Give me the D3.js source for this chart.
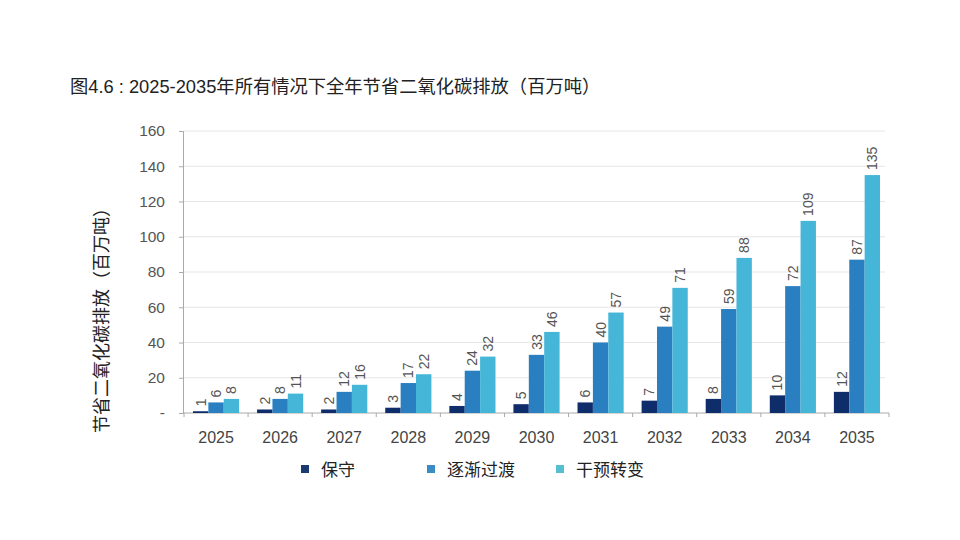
<!DOCTYPE html>
<html><head><meta charset="utf-8">
<script src="https://cdn.jsdelivr.net/npm/d3@7/dist/d3.min.js"></script>
<style>body{margin:0;background:#fff;}svg{display:block;}</style>
</head><body>
<script>
const years = ["2025","2026","2027","2028","2029","2030","2031","2032","2033","2034","2035"];
const seriesNames = ["保守","逐渐过渡","干预转变"];
const conservative = [1,2,2,3,4,5,6,7,8,10,12];
const gradual = [6,8,12,17,24,33,40,49,59,72,87];
const intervention = [8,11,16,22,32,46,57,71,88,109,135];
const yTicks = [0,20,40,60,80,100,120,140,160];
const colors = ["#0e2d6a","#2a7fc0","#45b6d8"];
const legendColors = ["#1b3a72","#3b8cc4","#55bfd0"];
const seriesValues = [conservative, gradual, intervention];

const W=960,H=540;
const svg=d3.select("body").append("svg").attr("width",W).attr("height",H);
const font="'Liberation Sans','Noto Sans CJK SC',Arial,sans-serif";
const cjk="'Noto Sans CJK SC','Liberation Sans',sans-serif";

svg.append("text").attr("x",70).attr("y",93).attr("font-family",font).attr("font-size",18.3)
  .attr("fill","#222").text("图4.6 : 2025-2035年所有情况下全年节省二氧化碳排放（百万吨）");

const x0=d3.scaleBand().domain(years).range([184,889]).paddingInner(0.28).paddingOuter(0.14);
const x1=d3.scaleBand().domain([0,1,2]).range([0,x0.bandwidth()]);
const y=d3.scaleLinear().domain([0,160]).range([413,131]);

// gridlines
svg.append("g").selectAll("line").data(yTicks.slice(1)).join("line")
  .attr("x1",183).attr("x2",885).attr("y1",d=>y(d)).attr("y2",d=>y(d))
  .attr("stroke","#e6e6e6").attr("stroke-width",1);

// y axis
const yAxis=d3.axisLeft(y).tickValues(yTicks).tickSize(4).tickFormat(d=>d===0?"-":d);
const gy=svg.append("g").attr("transform","translate(183,0)").call(yAxis);
gy.select(".domain").attr("stroke","#aaa");
gy.selectAll(".tick line").attr("stroke","#aaa");
gy.selectAll(".tick text").attr("font-family",font).attr("font-size",15.5).attr("fill","#555").attr("x",-18);

// x axis
const gx=svg.append("g").attr("transform","translate(0,413)");
gx.append("line").attr("x1",183).attr("x2",889).attr("stroke","#aaa");
const bounds=d3.range(years.length+1).map(i=>184+i*(889-184)/years.length);
gx.selectAll("line.tk").data(bounds).join("line").attr("class","tk")
  .attr("x1",d=>d).attr("x2",d=>d).attr("y1",0).attr("y2",4).attr("stroke","#aaa");
gx.selectAll("text").data(years).join("text")
  .attr("x",d=>x0(d)+x0.bandwidth()/2).attr("y",30).attr("text-anchor","middle")
  .attr("font-family",font).attr("font-size",16).attr("fill","#444").text(d=>d);

// bars
const groups=svg.append("g").selectAll("g").data(years).join("g")
  .attr("transform",d=>`translate(${x0(d)},0)`);
groups.selectAll("rect").data((d,i)=>seriesValues.map((s,k)=>({k,v:s[i]}))).join("rect")
  .attr("x",d=>x1(d.k)).attr("width",x1.bandwidth()).attr("y",d=>y(d.v)).attr("height",d=>413-y(d.v))
  .attr("fill",d=>colors[d.k]);
groups.selectAll("text").data((d,i)=>seriesValues.map((s,k)=>({k,v:s[i]}))).join("text")
  .attr("transform",d=>`translate(${x1(d.k)+x1.bandwidth()/2+5},${y(d.v)-5}) rotate(-90)`)
  .attr("font-family",font).attr("font-size",14).attr("fill","#555").text(d=>d.v);

// y label
svg.append("text").attr("transform","translate(108,316) rotate(-90)").attr("text-anchor","middle")
  .attr("font-family",cjk).attr("font-size",18).attr("fill","#222").text("节省二氧化碳排放（百万吨）");

// legend
const lx=[301,427,556];
const lg=svg.append("g").selectAll("g").data(seriesNames).join("g").attr("transform",(d,i)=>`translate(${lx[i]},0)`);
lg.append("rect").attr("x",0).attr("y",465).attr("width",8).attr("height",8).attr("fill",(d,i)=>legendColors[i]);
lg.append("text").attr("x",20).attr("y",476).attr("font-family",cjk).attr("font-size",17).attr("fill","#222").text(d=>d);
</script>
</body></html>
